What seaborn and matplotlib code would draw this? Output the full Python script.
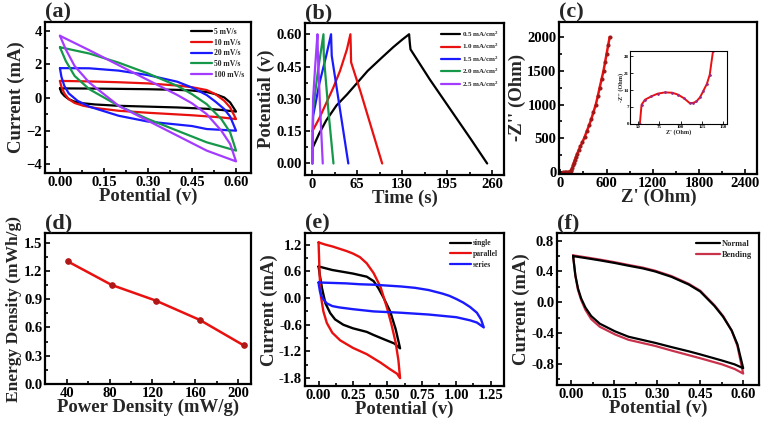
import numpy as np
import pandas as pd
import matplotlib
matplotlib.use('Agg')
import matplotlib.pyplot as plt
from matplotlib.ticker import AutoMinorLocator, FormatStrFormatter
import seaborn as sns

# ---- (a) CV at different scan rates (loop: forward then back) ----
a5_x = [0, 0.1, 0.2, 0.3, 0.4, 0.45, 0.5, 0.53, 0.56, 0.58, 0.6, 0.6, 0.55, 0.5, 0.4, 0.3, 0.2, 0.12, 0.08, 0.05, 0.03, 0.015, 0.005, 0]
a5_y = [0.55, 0.54, 0.52, 0.5, 0.46, 0.42, 0.33, 0.2, 0.0, -0.3, -0.85, -0.85, -0.75, -0.68, -0.6, -0.55, -0.5, -0.42, -0.35, -0.25, -0.1, 0.1, 0.3, 0.55]
a10_x = [0, 0.1, 0.2, 0.3, 0.4, 0.45, 0.5, 0.53, 0.56, 0.58, 0.6, 0.6, 0.55, 0.45, 0.3, 0.2, 0.12, 0.08, 0.05, 0.03, 0.015, 0.005, 0]
a10_y = [1.0, 0.97, 0.92, 0.85, 0.72, 0.62, 0.45, 0.2, -0.2, -0.6, -1.3, -1.3, -1.2, -1.07, -0.92, -0.8, -0.63, -0.5, -0.33, -0.1, 0.25, 0.65, 1.0]
a20_x = [0, 0.1, 0.2, 0.3, 0.4, 0.45, 0.5, 0.53, 0.56, 0.58, 0.6, 0.6, 0.5, 0.45, 0.3, 0.2, 0.1, 0.06, 0.03, 0.015, 0.005, 0]
a20_y = [1.77, 1.76, 1.62, 1.35, 0.95, 0.6, 0.15, -0.25, -0.7, -1.15, -2.0, -2.0, -1.9, -1.72, -1.45, -1.1, -0.55, -0.2, 0.25, 0.7, 1.25, 1.77]
a50_x = [0, 0.1, 0.2, 0.3, 0.4, 0.45, 0.5, 0.55, 0.58, 0.6, 0.6, 0.5, 0.45, 0.3, 0.2, 0.1, 0.05, 0.02, 0]
a50_y = [3.03, 2.65, 2.1, 1.45, 0.7, 0.2, -0.4, -1.3, -2.1, -3.2, -3.2, -2.7, -2.35, -1.3, -0.5, 0.5, 1.3, 2.2, 3.03]
a100_x = [0, 0.1, 0.2, 0.3, 0.4, 0.45, 0.5, 0.55, 0.58, 0.6, 0.6, 0.5, 0.45, 0.3, 0.2, 0.1, 0.05, 0.02, 0]
a100_y = [3.72, 2.85, 1.95, 1.05, 0.15, -0.35, -1.0, -2.0, -2.8, -3.85, -3.85, -3.2, -2.75, -1.4, -0.5, 0.9, 1.9, 2.9, 3.72]
a_labels = ['5 mV/s', '10 mV/s', '20 mV/s', '50 mV/s', '100 mV/s']

# ---- (b) GCD at different current densities ----
b05_t = [0, 10, 20, 35, 50, 62, 80, 100, 117, 130, 140, 141, 142, 170, 200, 230, 253]
b05_v = [0.07, 0.14, 0.2, 0.27, 0.32, 0.364, 0.43, 0.49, 0.54, 0.575, 0.6, 0.56, 0.53, 0.39, 0.25, 0.11, 0.0]
b10_t = [0, 10, 20, 30, 40, 50, 55, 55.5, 56, 70, 85, 101]
b10_v = [0.15, 0.21, 0.28, 0.35, 0.43, 0.53, 0.6, 0.55, 0.47, 0.33, 0.17, 0.0]
b15_t = [0, 1, 10, 20, 27, 28, 40, 52]
b15_v = [0.0, 0.22, 0.37, 0.5, 0.6, 0.5, 0.25, 0.0]
b20_t = [0, 1, 8, 16, 16.5, 23, 30.5]
b20_v = [0.0, 0.25, 0.43, 0.6, 0.5, 0.25, 0.0]
b25_t = [0, 1, 4, 7.3, 8, 11, 15]
b25_v = [0.0, 0.3, 0.45, 0.6, 0.5, 0.27, 0.0]
b_labels = ['0.5 mA/cm$^\\mathbf{2}$', '1.0 mA/cm$^\\mathbf{2}$', '1.5 mA/cm$^\\mathbf{2}$',
            '2.0 mA/cm$^\\mathbf{2}$', '2.5 mA/cm$^\\mathbf{2}$']

# ---- (c) Nyquist plot + inset ----
c_zre = [40, 60, 80, 100, 120, 135, 145, 155, 165, 175, 190, 205, 220, 240, 260, 285, 315, 345,
         375, 400, 430, 460, 485, 510, 535, 560, 580, 600, 620, 640]
c_zim = [0, 1, 2, 4, 8, 15, 30, 60, 100, 140, 185, 230, 275, 330, 380, 440, 520, 610,
         700, 780, 890, 1000, 1120, 1250, 1375, 1500, 1625, 1750, 1875, 2000]
ci_zre = [52, 54, 58, 65.7, 73, 81.4, 90, 97, 104, 110.8, 115, 118.7, 123, 126.5, 131, 134.4, 138.2]
ci_zim = [0, 7.9, 10.0, 11.4, 12.5, 13.0, 12.9, 12.1, 10.6, 8.6, 8.7, 9.3, 11.0, 13.4, 16.5, 20.3, 29.9]

# ---- (d) Ragone ----
d_power = [41, 82, 123, 164, 205]
d_energy = [1.3, 1.05, 0.885, 0.68, 0.41]

# ---- (e) single / parallel / series ----
e_single_x = [0, 0.05, 0.1, 0.157, 0.25, 0.35, 0.4, 0.435, 0.47, 0.52, 0.56, 0.592,
              0.592, 0.55, 0.47, 0.4, 0.35, 0.25, 0.18, 0.12, 0.085, 0.05, 0.025, 0.01, 0]
e_single_y = [0.71, 0.67, 0.63, 0.6, 0.55, 0.48, 0.38, 0.22, 0.02, -0.3, -0.7, -1.13,
              -1.13, -1.02, -0.92, -0.83, -0.76, -0.68, -0.6, -0.48, -0.34, -0.12, 0.22, 0.5, 0.71]
e_par_x = [0, 0.05, 0.1, 0.15, 0.2, 0.25, 0.3, 0.35, 0.4, 0.45, 0.5, 0.53, 0.56, 0.58, 0.592,
           0.57, 0.52, 0.45, 0.35, 0.25, 0.157, 0.1, 0.06, 0.035, 0.017, 0.008, 0]
e_par_y = [1.25, 1.2, 1.16, 1.11, 1.06, 1.0, 0.92, 0.78, 0.56, 0.25, -0.25, -0.6, -1.0, -1.4, -1.8,
           -1.7, -1.6, -1.45, -1.26, -1.12, -0.95, -0.78, -0.56, -0.3, 0.04, 0.5, 1.25]
e_ser_x = [0, 0.1, 0.2, 0.3, 0.4, 0.5, 0.6, 0.7, 0.8, 0.9, 0.95, 1.0, 1.05, 1.1, 1.15, 1.18, 1.2,
           1.15, 1.1, 1.0, 0.9, 0.8, 0.6, 0.4, 0.25, 0.15, 0.1, 0.06, 0.04, 0.02, 0.01, 0.003, 0]
e_ser_y = [0.35, 0.34, 0.33, 0.31, 0.3, 0.28, 0.26, 0.23, 0.18, 0.1, 0.05, -0.02, -0.1, -0.2, -0.33, -0.48, -0.66,
           -0.55, -0.5, -0.43, -0.4, -0.37, -0.33, -0.3, -0.25, -0.21, -0.18, -0.12, -0.05, 0.05, 0.15, 0.28, 0.35]
e_labels = ['single', 'parallel', 'series']

# ---- (f) normal / bending ----
f_norm_x = [0.007, 0.05, 0.1, 0.153, 0.2, 0.25, 0.293, 0.35, 0.41, 0.45, 0.5, 0.53, 0.56, 0.58, 0.6,
            0.57, 0.526, 0.45, 0.41, 0.35, 0.293, 0.2, 0.153, 0.1, 0.07, 0.05, 0.035, 0.024, 0.015, 0.007]
f_norm_y = [0.6, 0.575, 0.545, 0.51, 0.475, 0.44, 0.4, 0.33, 0.23, 0.14, -0.05, -0.19, -0.37, -0.55, -0.86,
            -0.81, -0.76, -0.68, -0.64, -0.585, -0.53, -0.45, -0.38, -0.28, -0.18, -0.07, 0.05, 0.18, 0.35, 0.6]
f_bend_x = [0.007, 0.05, 0.1, 0.153, 0.2, 0.25, 0.293, 0.35, 0.41, 0.45, 0.5, 0.53, 0.56, 0.58, 0.6,
            0.57, 0.526, 0.45, 0.41, 0.35, 0.293, 0.2, 0.153, 0.1, 0.07, 0.05, 0.035, 0.024, 0.015, 0.007]
f_bend_y = [0.61, 0.585, 0.555, 0.52, 0.485, 0.45, 0.41, 0.34, 0.24, 0.15, -0.04, -0.18, -0.37, -0.57, -0.93,
            -0.87, -0.81, -0.73, -0.69, -0.63, -0.57, -0.49, -0.42, -0.32, -0.22, -0.1, 0.03, 0.16, 0.34, 0.61]
f_labels = ['Normal', 'Bending']

sns.set_theme(style='ticks')
plt.rcParams['font.family'] = ['Liberation Serif', 'DejaVu Serif']
plt.rcParams['font.weight'] = 'bold'
plt.rcParams['axes.labelweight'] = 'bold'
plt.rcParams['mathtext.fontset'] = 'custom'
plt.rcParams['mathtext.rm'] = 'Liberation Serif:bold'
plt.rcParams['mathtext.bf'] = 'Liberation Serif:bold'
plt.rcParams['axes.edgecolor'] = 'black'

fig = plt.figure(figsize=(7.62, 4.23), dpi=100)

def style(ax, xlim, ylim, xt, yt, xfmt, yfmt, xlabel, ylabel, tag, fs_tick=10.5, fs_lab=13.5, fs_ylab=None):
    ax.set_xlim(*xlim)
    ax.set_ylim(*ylim)
    ax.set_xticks(xt)
    ax.set_yticks(yt)
    if xfmt:
        ax.xaxis.set_major_formatter(FormatStrFormatter(xfmt))
    if yfmt:
        ax.yaxis.set_major_formatter(FormatStrFormatter(yfmt))
    ax.xaxis.set_minor_locator(AutoMinorLocator(2))
    ax.yaxis.set_minor_locator(AutoMinorLocator(2))
    ax.tick_params(which='both', direction='in', width=1.2, colors='black',
                   labelsize=fs_tick, pad=2)
    ax.tick_params(which='major', length=3.5)
    ax.tick_params(which='minor', length=2)
    for lab in ax.get_xticklabels() + ax.get_yticklabels():
        lab.set_fontweight('bold')
    ax.set_xlabel(xlabel, fontsize=fs_lab, fontweight='bold', labelpad=-1)
    ax.set_ylabel(ylabel, fontsize=fs_ylab or fs_lab, fontweight='bold', labelpad=1)
    ax.text(0.0, 1.0, tag, transform=ax.transAxes, fontsize=16,
            fontweight='bold', va='bottom', ha='left')
    for s in ax.spines.values():
        s.set_linewidth(1.6)

def leg(ax, loc='upper right', fs=5.5):
    l = ax.legend(loc=loc, frameon=False, prop={'weight': 'bold', 'size': fs},
                  handlelength=2.8, labelspacing=0.35, handletextpad=0.3,
                  borderaxespad=0.4)
    for h in l.get_lines():
        h.set_linewidth(1.6)

# (a)
ax = fig.add_axes([0.059, 0.591, 0.270, 0.357])
cols_a = ['black', '#e8110f', '#1a1aff', '#16984a', '#a43cff']
for xs, ys, c, lb in zip([a5_x, a10_x, a20_x, a50_x, a100_x],
                         [a5_y, a10_y, a20_y, a50_y, a100_y], cols_a, a_labels):
    sns.lineplot(x=xs, y=ys, sort=False, estimator=None, color=c, lw=1.6, label=lb, ax=ax)
style(ax, (-0.051, 0.65), (-4.55, 4.55), [0, 0.15, 0.3, 0.45, 0.6], [-4, -2, 0, 2, 4],
      '%.2f', None, 'Potential (v)', 'Current (mA)', '(a)')
leg(ax)

# (b)
ax = fig.add_axes([0.400, 0.586, 0.262, 0.359])
for xs, ys, c, lb in zip([b05_t, b10_t, b15_t, b20_t, b25_t],
                         [b05_v, b10_v, b15_v, b20_v, b25_v], cols_a, b_labels):
    sns.lineplot(x=xs, y=ys, sort=False, estimator=None, color=c, lw=1.6, label=lb, ax=ax)
style(ax, (-11, 278), (-0.054, 0.651), [0, 65, 130, 195, 260], [0, 0.15, 0.3, 0.45, 0.6],
      None, '%.2f', 'Time (s)', 'Potential (v)', '(b)')
leg(ax, fs=5)

# (c)
ax = fig.add_axes([0.734, 0.589, 0.260, 0.359])
sns.lineplot(x=c_zre, y=c_zim, sort=False, estimator=None, color='#e8110f', lw=1.8,
             marker='o', markersize=2.2, markerfacecolor='#a01818', markeredgecolor='#a01818', ax=ax)
style(ax, (-13, 2555), (-25, 2222), [0, 600, 1200, 1800, 2400], [0, 500, 1000, 1500, 2000],
      None, None, "Z' (Ohm)", "-Z'' (Ohm)", '(c)')
ins = fig.add_axes([0.827, 0.707, 0.127, 0.173])
sns.lineplot(x=ci_zre, y=ci_zim, sort=False, estimator=None, color='#e8110f', lw=1.4,
             marker='o', markersize=1.2, markerfacecolor='#9a2a8a', markeredgecolor='#9a2a8a', ax=ins)
ins.set_xlim(40.6, 154.7)
ins.set_ylim(0, 30.2)
ins.set_xticks([50, 75, 100, 125, 150])
ins.set_yticks([0, 7, 14, 21, 28])
ins.tick_params(direction='in', labelsize=3.5, length=2, width=0.6, pad=1, colors='black')
for lab in ins.get_xticklabels() + ins.get_yticklabels():
    lab.set_fontweight('bold')
ins.set_xlabel("Z' (Ohm)", fontsize=4.5, fontweight='bold', labelpad=0)
ins.set_ylabel("-Z'' (Ohm)", fontsize=4.5, fontweight='bold', labelpad=0)
for s in ins.spines.values():
    s.set_linewidth(0.8)

# (d)
ax = fig.add_axes([0.059, 0.092, 0.270, 0.357])
sns.lineplot(x=d_power, y=d_energy, sort=False, estimator=None, color='#e8110f', lw=1.8,
             marker='o', markersize=4, markerfacecolor='#b01818', markeredgecolor='#b01818', ax=ax)
style(ax, (19.8, 211.5), (0, 1.6), [40, 80, 120, 160, 200], [0, 0.3, 0.6, 0.9, 1.2, 1.5],
      None, '%.1f', 'Power Density (mW/g)', 'Energy Density (mWh/g)', '(d)', fs_ylab=12.5)

# (e)
ax = fig.add_axes([0.400, 0.087, 0.262, 0.362])
for xs, ys, c, lb in zip([e_single_x, e_par_x, e_ser_x], [e_single_y, e_par_y, e_ser_y],
                         ['black', '#e8110f', '#1a1aff'], e_labels):
    sns.lineplot(x=xs, y=ys, sort=False, estimator=None, color=c, lw=1.7, label=lb, ax=ax)
style(ax, (-0.1, 1.35), (-1.98, 1.46), [0, 0.25, 0.5, 0.75, 1.0, 1.25],
      [-1.8, -1.2, -0.6, 0.0, 0.6, 1.2], '%.2f', '%.1f', 'Potential (v)', 'Current (mA)', '(e)')
leg(ax)

# (f)
ax = fig.add_axes([0.731, 0.090, 0.265, 0.359])
sns.lineplot(x=f_bend_x, y=f_bend_y, sort=False, estimator=None, color='#c8324b', lw=1.6,
             label=f_labels[1], ax=ax)
sns.lineplot(x=f_norm_x, y=f_norm_y, sort=False, estimator=None, color='black', lw=1.6,
             label=f_labels[0], ax=ax)
style(ax, (-0.049, 0.655), (-1.078, 0.9), [0, 0.15, 0.3, 0.45, 0.6],
      [-0.8, -0.4, 0.0, 0.4, 0.8], '%.2f', '%.1f', 'Potential (v)', 'Current (mA)', '(f)')
h, l = ax.get_legend_handles_labels()
lg = ax.legend(h[::-1], l[::-1], loc='upper right', frameon=False,
               prop={'weight': 'bold', 'size': 6}, handlelength=2.8, labelspacing=0.35,
               handletextpad=0.3, borderaxespad=0.4)
for hh in lg.get_lines():
    hh.set_linewidth(1.6)

fig.savefig('out.png', dpi=100)
